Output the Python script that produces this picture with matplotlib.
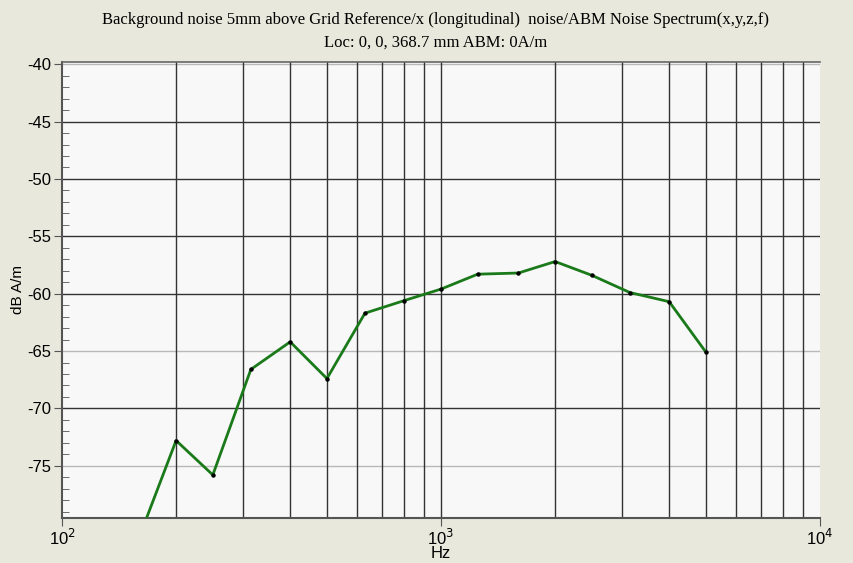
import numpy as np
import matplotlib
matplotlib.use("Agg")
from matplotlib import pyplot as plt
from matplotlib.ticker import FixedLocator, NullFormatter

# one-third octave centre frequencies and measured levels
freqs = [160, 200, 250, 315, 400, 500, 630, 800, 1000, 1250,
         1600, 2000, 2500, 3150, 4000, 5000]
levels = [-81.2, -72.8, -75.8, -66.6, -64.2, -67.4, -61.7, -60.6, -59.6, -58.3,
          -58.2, -57.2, -58.4, -59.9, -60.7, -65.1]

title_lines = ["Background noise 5mm above Grid Reference/x (longitudinal)  noise/ABM Noise Spectrum(x,y,z,f)",
               "Loc: 0, 0, 368.7 mm ABM: 0A/m"]
y_major = [-40, -45, -50, -55, -60, -65, -70, -75]
x_labels = ["10$^2$", "10$^3$", "10$^4$"]

bg = "#e8e8dc"
fig = plt.figure(figsize=(8.54, 5.63), dpi=100, facecolor=bg)
ax = fig.add_axes([0.0726, 0.080, 0.8876, 0.810])
ax.set_facecolor("#f8f8f8")

ax.set_xscale("log")
ax.set_xlim(100, 10000)
ax.set_ylim(-79.55, -39.8)

# grid lines
for v in y_major:
    c = "#b8b8b8" if v in (-40, -65, -75) else "#333333"
    ax.axhline(v, color=c, lw=1.0, zorder=1)
gx = [m * 10 ** e for e in (2, 3) for m in range(2, 10)] + [1000]
for v in gx:
    ax.axvline(v, color="#333333", lw=1.0, zorder=1)

ax.plot(freqs, levels, color="#1a7a1a", lw=2.0, zorder=3)
ax.plot(freqs, levels, "o", color="black", ms=2.2, zorder=4)

# ticks
ax.yaxis.set_major_locator(FixedLocator(y_major))
ax.set_yticklabels([str(v) for v in y_major], fontsize=12, family="Liberation Sans")
ax.yaxis.set_minor_locator(FixedLocator(np.arange(-79, -39, 1)))
ax.tick_params(axis="y", which="major", direction="out", length=6, color="#555555", pad=2)
ax.tick_params(axis="y", which="minor", direction="in", length=5, color="#555555")
ax.xaxis.set_major_locator(FixedLocator([100, 1000, 10000]))
ax.set_xticklabels(x_labels, fontsize=12, family="Liberation Sans")
ax.xaxis.set_minor_locator(FixedLocator([]))
ax.xaxis.set_minor_formatter(NullFormatter())
ax.tick_params(axis="x", which="major", direction="out", length=6, color="#555555", pad=1)

for s in ("left", "bottom"):
    ax.spines[s].set_color("#555555")
    ax.spines[s].set_linewidth(1.5)
ax.spines["top"].set_color("#666666")
ax.spines["top"].set_linewidth(1.2)
ax.spines["right"].set_visible(False)

fig.text(0.51, 0.964, title_lines[0], ha="center", va="center",
         fontsize=12, family="Liberation Serif")
fig.text(0.51, 0.925, title_lines[1], ha="center", va="center",
         fontsize=12, family="Liberation Serif")
fig.text(441 / 854, 1 - 554 / 563, "Hz", ha="center", va="center",
         fontsize=12, family="Liberation Sans")
fig.text(18 / 854, 1 - 290 / 563, "dB A/m", ha="center", va="center", rotation=90,
         fontsize=11, family="Liberation Sans")

fig.savefig("out.png", dpi=100, facecolor=bg)
